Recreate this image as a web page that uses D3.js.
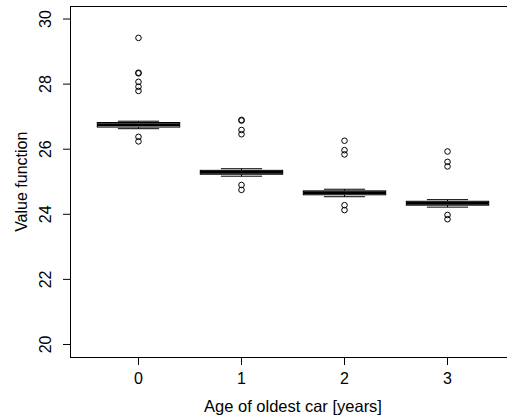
<!DOCTYPE html>
<html><head><meta charset="utf-8">
<script src="https://cdn.jsdelivr.net/npm/d3@7"></script>
<style>html,body{margin:0;padding:0;background:#fff;}svg{display:block;}text{font-family:"Liberation Sans",Arial,sans-serif;}</style>
</head><body>
<svg id="c" width="507" height="419"></svg>
<script>
const categories = ["0","1","2","3"];
const whiskerLow = [26.63, 25.17, 24.54, 24.22];
const q1 = [26.68, 25.23, 24.60, 24.28];
const median = [26.75, 25.29, 24.66, 24.34];
const q3 = [26.82, 25.35, 24.72, 24.40];
const whiskerHigh = [26.86, 25.40, 24.77, 24.45];
const outliers0 = [29.42, 28.35, 28.33, 28.07, 27.92, 27.79, 26.38, 26.24];
const outliers1 = [26.90, 26.88, 26.59, 26.46, 24.90, 24.75];
const outliers2 = [26.26, 25.97, 25.84, 24.28, 24.13];
const outliers3 = [25.93, 25.61, 25.47, 23.98, 23.85];
const outliers = [outliers0, outliers1, outliers2, outliers3];
const yTicks = [20, 22, 24, 26, 28, 30];

const svg = d3.select("#c");
const x = d3.scaleLinear().domain([0.34, 4.66]).range([70.5, 515.5]);
const y = d3.scaleLinear().domain([19.6, 30.4]).range([357.5, 6]);
const pos = i => x(i + 1);
const bw = x(1.4) - x(1.0);   // half box width
const sw = bw / 2;            // half staple width

// frame
svg.append("rect").attr("x", 70.5).attr("y", 6.5).attr("width", 445).attr("height", 351)
  .attr("fill", "none").attr("stroke", "#000").attr("stroke-width", 1);

const g = svg.append("g");
categories.forEach((c, i) => {
  const cx = pos(i);
  g.append("line").attr("x1", cx).attr("x2", cx).attr("y1", y(whiskerLow[i])).attr("y2", y(q1[i]))
    .attr("stroke", "#000").attr("stroke-dasharray", "3,3");
  g.append("line").attr("x1", cx).attr("x2", cx).attr("y1", y(q3[i])).attr("y2", y(whiskerHigh[i]))
    .attr("stroke", "#000").attr("stroke-dasharray", "3,3");
  [whiskerLow[i], whiskerHigh[i]].forEach(v => {
    g.append("line").attr("x1", cx - sw).attr("x2", cx + sw).attr("y1", y(v)).attr("y2", y(v))
      .attr("stroke", "#000").attr("stroke-width", 1);
  });
  g.append("rect").attr("x", cx - bw).attr("width", 2 * bw)
    .attr("y", y(q3[i])).attr("height", y(q1[i]) - y(q3[i]))
    .attr("fill", "#fff").attr("stroke", "#000").attr("stroke-width", 1);
  g.append("line").attr("x1", cx - bw).attr("x2", cx + bw).attr("y1", y(median[i])).attr("y2", y(median[i]))
    .attr("stroke", "#000").attr("stroke-width", 3);
  outliers[i].forEach(v => {
    g.append("circle").attr("cx", cx).attr("cy", y(v)).attr("r", 2.8)
      .attr("fill", "none").attr("stroke", "#000").attr("stroke-width", 1);
  });
});

const ya = svg.append("g");
ya.append("line").attr("x1", 70.5).attr("x2", 70.5).attr("y1", y(20)).attr("y2", y(30)).attr("stroke", "#000");
yTicks.forEach(t => {
  ya.append("line").attr("x1", 63).attr("x2", 70.5).attr("y1", y(t)).attr("y2", y(t)).attr("stroke", "#000");
  ya.append("text").attr("transform", `translate(51,${y(t)}) rotate(-90)`)
    .attr("text-anchor", "middle").attr("font-size", 16).text(t);
});
const xa = svg.append("g");
xa.append("line").attr("x1", pos(0)).attr("x2", pos(3)).attr("y1", 357.5).attr("y2", 357.5).attr("stroke", "#000");
categories.forEach((c, i) => {
  xa.append("line").attr("x1", pos(i)).attr("x2", pos(i)).attr("y1", 357.5).attr("y2", 365).attr("stroke", "#000");
  xa.append("text").attr("x", pos(i)).attr("y", 383.5).attr("text-anchor", "middle").attr("font-size", 16).text(c);
});
svg.append("text").attr("x", (70.5 + 515.5) / 2).attr("y", 412).attr("text-anchor", "middle")
  .attr("font-size", 16.5).text("Age of oldest car [years]");
svg.append("text").attr("transform", `translate(27,${(6 + 357.5) / 2}) rotate(-90)`)
  .attr("text-anchor", "middle").attr("font-size", 16).text("Value function");
</script>
</body></html>
